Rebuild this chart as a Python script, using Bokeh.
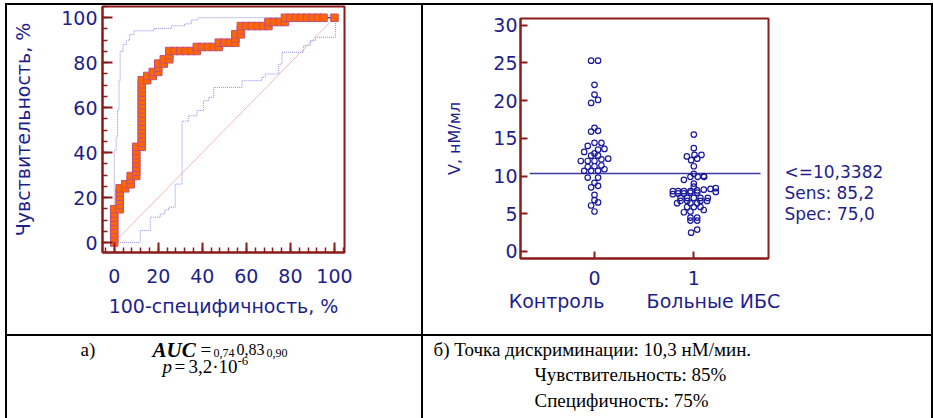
from bokeh.plotting import figure
from bokeh.layouts import row, column
from bokeh.models import Range1d, SingleIntervalTicker, FixedTicker, Label, LinearAxis, Spacer
from bokeh.embed import file_html
from bokeh.resources import INLINE

# ---------------- data ----------------
# ROC curve points (100-specificity %, sensitivity %)
roc_fpr = [0, 0, 0, 0, 0, 0, 0, 0, 0,
           2.5, 2.5, 2.5, 2.5, 2.5, 2.5,
           5, 5,
           7.5, 7.5, 7.5,
           10, 10, 10, 10, 10, 10, 10, 10,
           12.5, 12.5, 12.5, 12.5, 12.5, 12.5, 12.5, 12.5, 12.5, 12.5, 12.5, 12.5, 12.5, 12.5, 12.5, 12.5, 12.5,
           15, 15, 17.5, 17.5,
           20, 20, 20, 22.5, 22.5,
           25, 25, 25, 27.5, 30, 32.5, 35,
           37.5, 37.5, 40, 42.5, 45,
           47.5, 47.5, 50, 52.5,
           55, 55, 55, 57.5, 57.5, 57.5,
           60, 62.5, 65, 67.5, 70, 70, 72.5, 75,
           77.5, 77.5, 80, 82.5, 85, 87.5, 90, 92.5, 95, 100]
roc_tpr = [0, 1.9, 3.7, 5.6, 7.4, 9.3, 11.1, 13.0, 14.8,
           14.8, 16.7, 18.5, 20.4, 22.2, 24.1,
           24.1, 25.9,
           25.9, 27.8, 29.6,
           29.6, 31.5, 33.3, 35.2, 37.0, 38.9, 40.7, 42.6,
           42.6, 44.4, 46.3, 48.1, 50.0, 51.9, 53.7, 55.6, 57.4, 59.3, 61.1, 63.0, 64.8, 66.7, 68.5, 70.4, 72.2,
           72.2, 74.1, 74.1, 75.9,
           75.9, 77.8, 79.6, 79.6, 81.5,
           81.5, 83.3, 85.2, 85.2, 85.2, 85.2, 85.2,
           85.2, 87.0, 87.0, 87.0, 87.0,
           87.0, 88.9, 88.9, 88.9,
           88.9, 90.7, 92.6, 92.6, 94.4, 96.3,
           96.3, 96.3, 96.3, 96.3, 96.3, 98.1, 98.1, 98.1,
           98.1, 100, 100, 100, 100, 100, 100, 100, 100, 100]

# 95% confidence bounds of the ROC curve
upper_x = [0, 0, 0.9, 0.9, 1.5, 1.5, 2.2, 2.2, 2.7, 2.7, 4, 4, 5.5, 5.5, 7, 7, 9, 9,
           18, 18, 26, 26, 32, 32, 35, 35, 38, 38, 100]
upper_y = [0, 41, 41, 47, 47, 59, 59, 72, 72, 85, 85, 88, 88, 90, 90, 92.5, 92.5, 94.2,
           94.2, 95.2, 95.2, 96.4, 96.4, 97.3, 97.3, 99, 99, 100, 100]
lower_x = [0, 11.8, 11.8, 16.4, 16.4, 20.9, 20.9, 23, 23, 24.7, 24.7, 27.7, 27.7, 30.8, 30.8,
           33.8, 33.8, 37.6, 37.6, 40.6, 40.6, 42.9, 42.9, 45.2, 45.2, 58, 58, 67, 67, 68.6, 68.6,
           74.7, 74.7, 76.2, 76.2, 86, 86, 89, 89, 91.4, 91.4, 100.5, 100.5, 100]
lower_y = [0, 0, 5.3, 5.3, 11.3, 11.3, 12.7, 12.7, 14.5, 14.5, 15.7, 15.7, 26, 26, 54,
           54, 56.4, 56.4, 58.7, 58.7, 63.1, 63.1, 64.6, 64.6, 69, 69, 72, 72, 73.5, 73.5, 75,
           75, 79.4, 79.4, 84.6, 84.6, 87.6, 87.6, 89.8, 89.8, 91.3, 91.3, 98.7, 100]
diag_x = [0, 100]
diag_y = [0, 100]

# Dot plot: V values and horizontal offsets inside each group
ctrl_y = [25.3, 25.3, 22.1, 20.8, 20.1, 19.7, 16.4, 16.0, 15.9,
          14.4, 14.4, 14.0, 13.6, 13.5, 13.2, 13.0, 12.7, 12.7,
          12.3, 12.2, 12.0, 12.0, 12.0, 11.4, 11.3, 11.2, 10.9,
          10.7, 10.7, 10.7, 9.8, 9.8, 9.1, 8.7, 8.5, 7.5, 6.8, 6.5, 6.1, 5.3]
ctrl_dx = [-0.034, 0.036, 0, 0, 0.036, -0.034, 0, 0.036, -0.034,
           0.07, 0, -0.068, 0.1, 0.036, -0.104, 0, -0.034, 0.036,
           0.138, 0.07, -0.138, -0.068, 0, 0.07, 0, -0.068, 0.1,
           -0.104, -0.034, 0.036, -0.068, 0.036, 0, 0.036, -0.034, 0, 0, 0.036, -0.034, 0]
ibs_y = [15.5, 13.7, 12.6, 12.8, 12.8, 12.3, 12.1, 11.3,
         10.3, 9.9, 9.9, 9.9, 9.5, 9.0, 8.6,
         8.0, 8.0, 8.0, 8.0, 8.1, 8.2, 8.3, 8.4,
         7.6, 7.7, 7.7, 7.8, 7.8, 7.9,
         7.1, 7.1, 7.1, 7.1, 7.1,
         6.7, 6.7, 6.7, 6.7,
         6.4, 6.4, 6.4,
         5.9, 5.9, 5.9,
         5.2, 5.3, 5.5,
         4.5, 4.5, 4.1, 4.1, 2.9, 2.5, 10.0]
ibs_dx = [0, 0, -0.07, 0.007, 0.077, 0.034, -0.027, 0,
          0, -0.034, 0.04, 0.104, -0.1, 0, 0,
          -0.211, -0.158, -0.1, -0.034, 0.034, 0.1, 0.168, 0.221,
          -0.211, -0.158, -0.1, -0.034, 0.034, 0.221,
          -0.134, -0.067, 0, 0.067, 0.141,
          -0.134, -0.067, 0.067, 0.134,
          -0.168, -0.034, 0.034,
          -0.067, 0, 0.067,
          -0.1, -0.034, 0.1,
          -0.034, 0.034, -0.034, 0.034, 0.034, -0.027, 0.1]
group_ticks = [0, 1]
group_names = ["Контроль", "Больные ИБС"]
cutoff = 10.3382
cut_span = [-0.652, 1.672]
stat_lines = ["<=10,3382", "Sens: 85,2", "Spec: 75,0"]

# ---------------- styles ----------------
NAVY = "#1e1e8c"
DARKRED = "#8b1a1a"
SANS = "DejaVu Sans"
SERIF = "Liberation Serif"
NB = "\u00a0"


def style_axis(ax, tick_in, minor_in=0):
    ax.axis_line_color = DARKRED
    ax.axis_line_width = 2
    ax.major_tick_line_color = DARKRED
    ax.major_tick_line_width = 2
    ax.major_tick_in = tick_in
    ax.major_tick_out = 0
    ax.minor_tick_line_color = DARKRED if minor_in else None
    ax.minor_tick_line_width = 1.5
    ax.minor_tick_in = minor_in
    ax.minor_tick_out = 0
    ax.major_label_text_font = SANS
    ax.major_label_text_color = NAVY
    ax.axis_label_text_font = SANS
    ax.axis_label_text_font_style = "normal"
    ax.axis_label_text_color = NAVY


def bar(w, h):
    return Spacer(width=w, height=h, styles={"background-color": "black"})


def no_align(p):
    if "frame_align" in p.properties():
        p.frame_align = False


# ---------------- ROC plot ----------------
p1 = figure(width=414, height=329, x_range=Range1d(-5.31, 104.54), y_range=Range1d(-4.44, 105.0),
            title=None, output_backend="svg", toolbar_location=None,
            min_border_left=95, min_border_right=77, min_border_top=1, min_border_bottom=82)
no_align(p1)
p1.xgrid.visible = False
p1.ygrid.visible = False
p1.outline_line_color = DARKRED
p1.outline_line_width = 2
p1.xaxis.ticker = SingleIntervalTicker(interval=20, num_minor_ticks=5)
p1.yaxis.ticker = SingleIntervalTicker(interval=20, num_minor_ticks=4)
for ax in (p1.xaxis[0], p1.yaxis[0]):
    style_axis(ax, 10, 5)
    ax.major_label_text_font_size = "19px"
    ax.axis_label_text_font_size = "19px"
p1.xaxis.axis_label = "100-специфичность, %"
p1.yaxis.axis_label = "Чувствительность, %"
p1.xaxis.major_label_standoff = 16
p1.xaxis.axis_label_standoff = 9
p1.yaxis.major_label_standoff = 5
p1.yaxis.axis_label_standoff = 24

p1.line(diag_x, diag_y, line_color="#f2b8b8", line_width=1)
p1.line(upper_x, upper_y, line_color="#8c8ce0", line_width=1, line_dash="1 1")
p1.line(lower_x, lower_y, line_color="#8c8ce0", line_width=1, line_dash="1 1")
p1.line(roc_fpr, roc_tpr, line_color="#4a4aa0", line_width=1.5)
p1.scatter(roc_fpr, roc_tpr, marker="square", size=7.5, fill_color="#ff6600",
           line_color="#c0507a", line_width=1)

# ---------------- dot plot ----------------
p2 = figure(width=508, height=329, x_range=Range1d(-0.745, 1.752), y_range=Range1d(-0.93, 30.89),
            title=None, output_backend="svg", toolbar_location=None,
            min_border_left=97, min_border_right=163, min_border_top=13, min_border_bottom=76)
no_align(p2)
p2.extra_y_ranges = {"stat": Range1d(-2.129, 9.271)}
p2.xgrid.visible = False
p2.ygrid.visible = False
p2.outline_line_color = DARKRED
p2.outline_line_width = 2
p2.xaxis.ticker = FixedTicker(ticks=group_ticks)
p2.yaxis.ticker = SingleIntervalTicker(interval=5, num_minor_ticks=0)
for ax in (p2.xaxis[0], p2.yaxis[0]):
    style_axis(ax, 7, 0)
    ax.major_label_text_font_size = "19px"
p2.xaxis.major_label_standoff = 12
p2.xaxis.axis_label = group_names[0] + NB * 7 + group_names[1]
p2.xaxis.axis_label_text_font_size = "19px"
p2.xaxis.axis_label_standoff = 2
p2.yaxis.major_label_standoff = 3
p2.yaxis.axis_label = "V, нМ/мл"
p2.yaxis.axis_label_text_font_size = "16px"
p2.yaxis.axis_label_standoff = 26

stat_axis = LinearAxis(y_range_name="stat", ticker=FixedTicker(ticks=[2, 1, 0]),
                       major_label_overrides={2 - i: t for i, t in enumerate(stat_lines)})
stat_axis.axis_line_color = None
stat_axis.major_tick_line_color = None
stat_axis.minor_tick_line_color = None
stat_axis.major_label_standoff = 10
stat_axis.major_label_text_font = SANS
stat_axis.major_label_text_font_size = "17px"
stat_axis.major_label_text_color = NAVY
p2.add_layout(stat_axis, "right")

p2.segment(x0=[cut_span[0]], y0=[cutoff], x1=[cut_span[1]], y1=[cutoff],
           line_color="#3c3ca0", line_width=1.5)
p2.scatter([group_ticks[0] + d for d in ctrl_dx], ctrl_y, marker="circle", size=5.5,
           fill_color=None, line_color="#1a1a9e", line_width=1.2)
p2.scatter([group_ticks[1] + d for d in ibs_dx], ibs_y, marker="circle", size=5.5,
           fill_color=None, line_color="#1a1a9e", line_width=1.2)

# ---------------- captions ----------------
def caption_fig(w, h):
    c = figure(width=w, height=h, x_range=Range1d(0, w), y_range=Range1d(h, 0),
               title=None, output_backend="svg", toolbar_location=None, min_border=0,
               x_axis_location=None, y_axis_location=None)
    c.xgrid.visible = False
    c.ygrid.visible = False
    c.outline_line_color = None
    return c


def lab(c, x, y, t, size="19px", style="normal"):
    c.add_layout(Label(x=x, y=y, text=t, text_font=SERIF, text_font_size=size,
                       text_font_style=style, text_color="black", text_baseline="alphabetic"))


p3 = caption_fig(414, 82)
lab(p3, 73, 13, "а)")
lab(p3, 145, 13, "AUC", size="21px", style="bold italic")
lab(p3, 193, 13, "=")
lab(p3, 206, 16, "0,74", size="12px")
lab(p3, 229, 13, "0,83", size="16px")
lab(p3, 259, 16, "0,90", size="12px")
lab(p3, 155, 30, "p", style="italic")
lab(p3, 167, 30, "=")
lab(p3, 181, 30, "3,2·10")
lab(p3, 230, 24, "-6", size="13px")

p4 = caption_fig(508, 82)
lab(p4, 10, 13, "б) Точка дискриминации: 10,3 нМ/мин.")
lab(p4, 111, 38, "Чувствительность: 85%")
lab(p4, 111, 64, "Специфичность: 75%")

layout = column(
    Spacer(width=933, height=3),
    row(Spacer(width=5, height=2), bar(928, 2)),
    row(Spacer(width=5, height=329), bar(2, 329), p1, bar(2, 329), p2, bar(2, 329)),
    row(Spacer(width=5, height=2), bar(928, 2)),
    row(Spacer(width=5, height=82), bar(2, 82), p3, bar(2, 82), p4, bar(2, 82)),
)
open("out.html", "w").write(file_html(layout, INLINE))
